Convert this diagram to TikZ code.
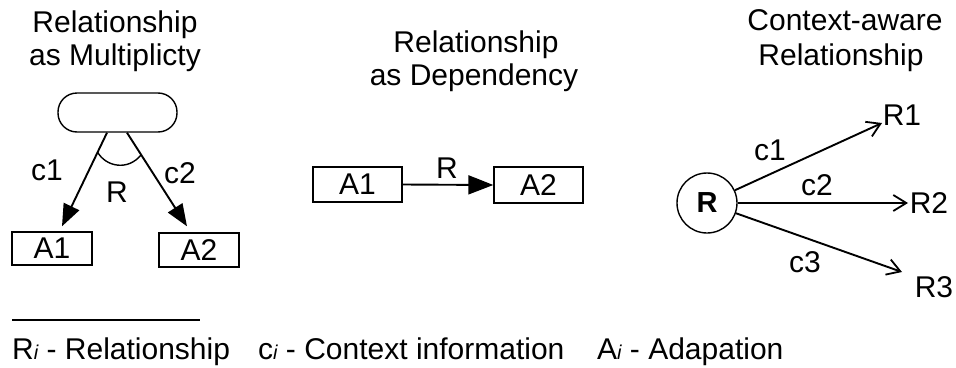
\documentclass[tikz,border=0pt]{standalone}
\usepackage{fontspec}
\setmainfont{Liberation Sans}
\usetikzlibrary{arrows.meta}

\begin{document}
\begin{tikzpicture}[x=1pt,y=-1pt,
  txt/.style={inner sep=0pt,font=\fontsize{30}{34}\selectfont},
  ttl/.style={txt,anchor=base},
  box/.style={draw,line width=1.4pt,rectangle,inner sep=0pt,
              minimum width=89pt,minimum height=35pt,font=\fontsize{30}{34}\selectfont},
  conn/.style={line width=1.9pt},
  solidhead/.style={conn,-{Triangle[length=22pt,width=17pt]}},
  openhead/.style={conn,-{Straight Barb[length=13pt,width=16pt,line width=1.8pt]}}
]
\useasboundingbox (0,0) rectangle (956,367);
\fill[white] (0,0) rectangle (956,367);

% ---- titles ----
\node[ttl] (t1a) at (115,32) {Relationship};
\node[ttl] (t1b) at (115,65) {as Multiplicty};
\node[ttl] (t2a) at (476,52) {Relationship};
\node[ttl] (t2b) at (474,85) {as Dependency};
\node[ttl] (t3a) at (845,30) {Context-aware};
\node[ttl] (t3b) at (841,65) {Relationship};

% ---- relationship as multiplicity ----
\node[draw,line width=1.4pt,rectangle,rounded corners=19pt,
      minimum width=119pt,minimum height=39pt,inner sep=0pt] (top) at (117.5,112.5) {};
\node[box,minimum width=80pt,minimum height=33pt] (la1) at (52,248.5) {A1};
\node[box,minimum width=80pt,minimum height=34pt] (la2) at (199,250) {A2};
\draw[solidhead] ([xshift=-10.5pt]top.south) -- ([xshift=10pt,yshift=5pt]la1.north);
\draw[solidhead] ([xshift=9.5pt]top.south) -- ([xshift=-12pt,yshift=6pt]la2.north);
\draw[line width=1.4pt] (97.5,152) .. controls (106,167) and (128,171) .. (141,155);
\node[txt] (lc1) at (47,170) {c1};
\node[txt] (lc2) at (180,173) {c2};
\node[txt] (lr) at (117,192) {R};

% ---- relationship as dependency ----
\node[box] (ma1) at (357.5,184.5) {A1};
\node[box,minimum height=36pt] (ma2) at (538.5,185) {A2};
\draw[conn,-{Triangle[length=25pt,width=19pt]}] (ma1.east) -- (ma2.west);
\node[txt] (mr) at (447,168) {R};

% ---- context-aware relationship ----
\node[draw,circle,line width=1.4pt,minimum size=60pt,inner sep=0pt,
      font=\fontsize{29}{32}\selectfont\bfseries] (rc) at (707,203) {R};
\coordinate (e1) at (882,123);
\coordinate (e2) at (908,203);
\coordinate (e3) at (902,272);
\draw[openhead] (rc) -- (e1);
\draw[openhead] (rc) -- (e2);
\draw[openhead] (rc) -- (e3);
\node[txt] (r1) at (902,115) {R1};
\node[txt] (r2) at (929,203) {R2};
\node[txt] (r3) at (934,287) {R3};
\node[txt] (rc1) at (770,150) {c1};
\node[txt] (rc2) at (817,185) {c2};
\node[txt] (rc3) at (805,262) {c3};

% ---- legend ----
\coordinate (ruleL) at (12,320);
\coordinate (ruleR) at (200,320);
\draw[line width=1.4pt] (ruleL) -- (ruleR);
\newcommand{\idx}{{\fontsize{20}{20}\selectfont\itshape i}}
\node[txt,anchor=base west] (leg1) at (12,359) {R\idx\ - Relationship};
\node[txt,anchor=base west] (leg2) at (258,359) {c\idx\ - Context information};
\node[txt,anchor=base west] (leg3) at (597,359) {A\idx\ - Adapation};
\end{tikzpicture}
\end{document}
